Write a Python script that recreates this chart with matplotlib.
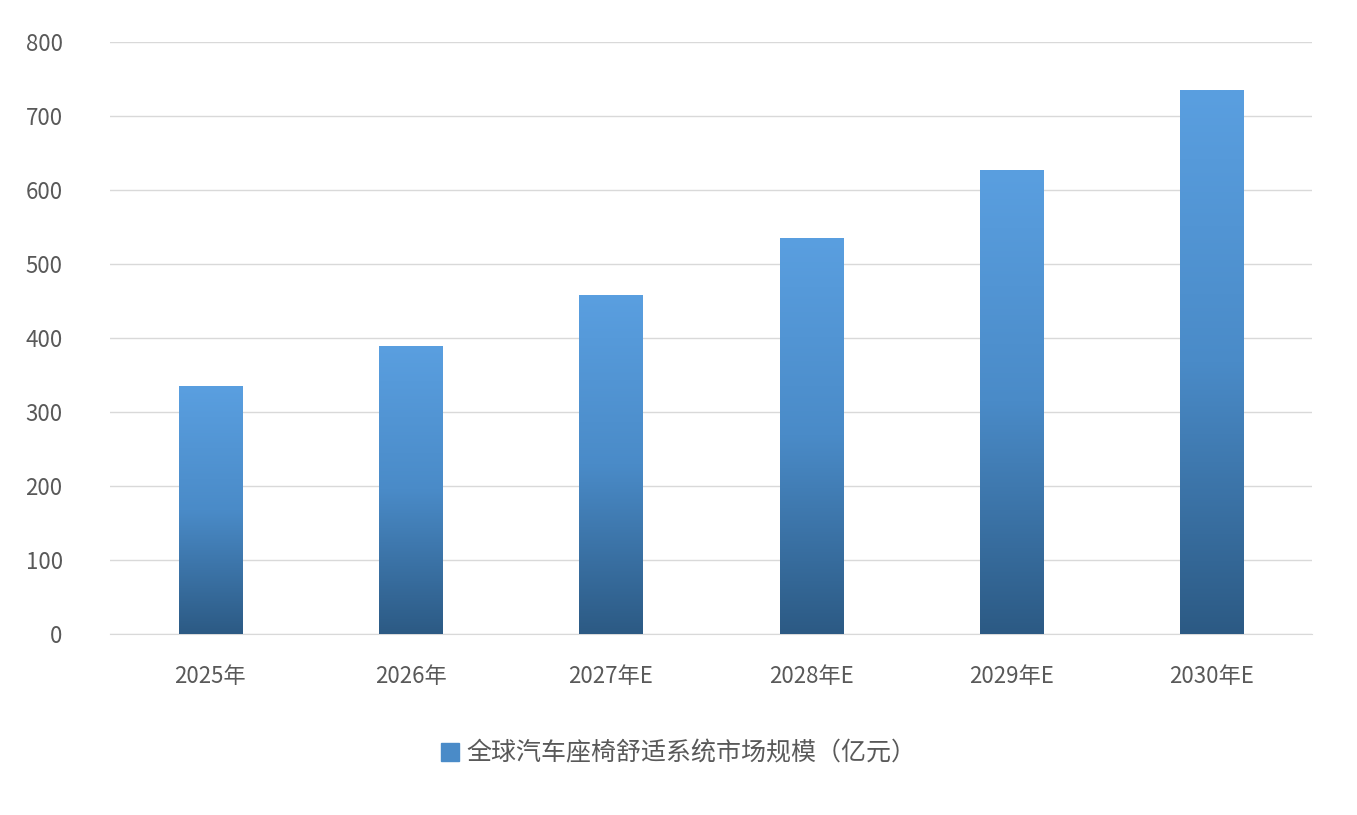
import matplotlib
matplotlib.use("Agg")
import matplotlib.pyplot as plt
import numpy as np
from matplotlib.colors import LinearSegmentedColormap
from matplotlib.patches import Rectangle

plt.rcParams['font.family'] = ['Noto Sans CJK SC', 'DejaVu Sans']

categories = ['2025年', '2026年', '2027年E', '2028年E', '2029年E', '2030年E']
values = [335, 390, 458, 536, 628, 735]
legend_label = '全球汽车座椅舒适系统市场规模（亿元）'

fig = plt.figure(figsize=(13.57, 8.15), dpi=100)
ax = fig.add_axes([0.081, 0.222, 0.886, 0.726])
x = np.arange(len(categories))
w = 0.315
cmap = LinearSegmentedColormap.from_list('g', ['#2c5a84', '#4a8bc8', '#5a9fe0'])
bars = ax.bar(x, values, width=w, color='none', edgecolor='none', zorder=3)
grad = np.linspace(0, 1, 256).reshape(-1, 1)
for b in bars:
    x0, y0 = b.get_x(), b.get_y()
    im = ax.imshow(grad, cmap=cmap, aspect='auto', origin='lower',
                   extent=[x0, x0 + b.get_width(), y0, y0 + b.get_height()], zorder=3)
    im.set_clip_path(b)
ax.set_xlim(-0.5, len(categories) - 0.5)
ax.set_ylim(0, 800)
ax.set_yticks(range(0, 801, 100))
ax.set_xticks(x)
ax.set_xticklabels(categories)
ax.grid(axis='y', color='#d9d9d9', linewidth=1, zorder=0)
for s in ['top', 'right', 'left']:
    ax.spines[s].set_visible(False)
ax.spines['bottom'].set_color('#d9d9d9')
ax.tick_params(axis='both', length=0, labelsize=16, colors='#595959')
ax.tick_params(axis='x', pad=22)
ax.tick_params(axis='y', pad=34)
handle = Rectangle((0, 0), 1, 1, color='#4a8bc8')
fig.legend([handle], [legend_label], loc='center', bbox_to_anchor=(0.5, 0.075),
           frameon=False, fontsize=18, labelcolor='#595959',
           handlelength=0.7, handleheight=0.7, handletextpad=0.3)
fig.savefig('out.png', dpi=100, facecolor='white')
